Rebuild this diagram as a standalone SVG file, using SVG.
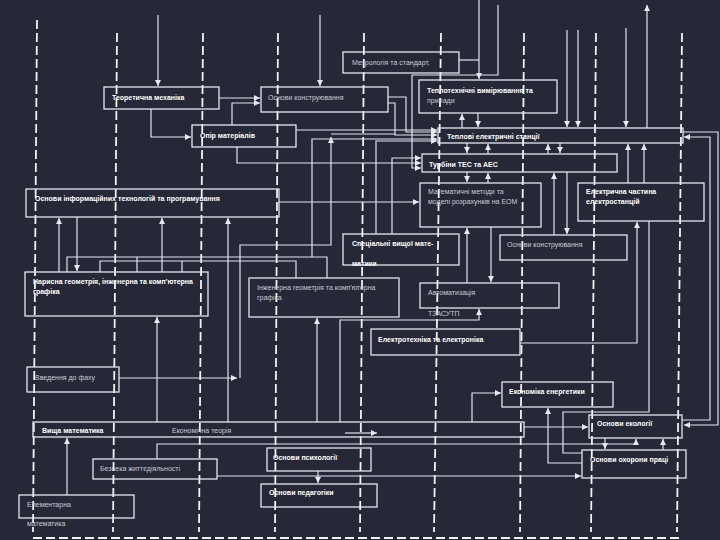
<svg xmlns="http://www.w3.org/2000/svg" width="720" height="540" viewBox="0 0 720 540">
<defs>
<marker id="ah" markerWidth="6" markerHeight="6" refX="6" refY="3" orient="auto" markerUnits="userSpaceOnUse">
<path d="M0,0 L6,3 L0,6 z" fill="#e4e9f2"/>
</marker>
<style>
.dash{stroke:#f2f2f2;stroke-width:1.8;stroke-dasharray:9 4;fill:none}
.box{fill:none;stroke:#e4e8f0;stroke-width:1.3}
.c{fill:none;stroke:#dfe5ef;stroke-width:1.2}
.a{fill:none;stroke:#dfe5ef;stroke-width:1.2;marker-end:url(#ah)}
.t{font-family:"Liberation Sans",Arial,sans-serif;font-size:7px;fill:#c9ccd6}
.b{font-family:"Liberation Sans",Arial,sans-serif;font-size:7px;fill:#ffffff;font-weight:bold}
</style>
</defs>
<rect x="0" y="0" width="720" height="540" fill="#262737"/>

<g id="grid">
<line class="dash" x1="37" y1="20" x2="33" y2="532"/>
<line class="dash" x1="117" y1="33" x2="113" y2="532"/>
<line class="dash" x1="203" y1="33" x2="199" y2="532"/>
<line class="dash" x1="278" y1="33" x2="275" y2="532"/>
<line class="dash" x1="364" y1="33" x2="360" y2="532"/>
<line class="dash" x1="441" y1="33" x2="434" y2="532"/>
<line class="dash" x1="524" y1="33" x2="520" y2="532"/>
<line class="dash" x1="596" y1="33" x2="591" y2="532"/>
<line class="dash" x1="682" y1="33" x2="677" y2="532"/>
<line class="dash" x1="33" y1="538" x2="682" y2="538"/>
</g>

<g id="connectors">
<path class="a" d="M158,15 V86"/>
<path class="a" d="M320,15 V86"/>
<path class="a" d="M479,0 V79"/>
<path class="c" d="M459,60 H479"/>
<path class="a" d="M498,5 V75 H412 V168 H421"/>
<path class="a" d="M567,30 V127"/>
<path class="a" d="M578,30 V127"/>
<path class="a" d="M626,28 V127"/>
<path class="a" d="M647,128 V5"/>
<path class="a" d="M219,98 H260"/>
<path class="a" d="M151,109 V137 H191"/>
<path class="a" d="M232,125 V103 H260"/>
<path class="a" d="M388,97 H406 V132 H437"/>
<path class="a" d="M388,103 H395 V135 H437"/>
<path class="a" d="M296,130 H437"/>
<path class="a" d="M240,378 V245 H331 V137"/>
<path class="c" d="M331,134 H395"/>
<path class="a" d="M312,257 V139 H437"/>
<path class="a" d="M376,234 V141 H437"/>
<path class="a" d="M392,234 V158 H421"/>
<path class="a" d="M237,147 V163 H421"/>
<path class="a" d="M279,202 H419"/>
<path class="a" d="M462,128 V114"/>
<path class="a" d="M478,113 V127"/>
<path class="a" d="M467,143 V153"/>
<path class="a" d="M488,154 V144"/>
<path class="a" d="M548,154 V144"/>
<path class="a" d="M560,143 V153"/>
<path class="a" d="M467,172 V182"/>
<path class="a" d="M488,183 V173"/>
<path class="a" d="M628,183 V144"/>
<path class="a" d="M644,183 V144"/>
<path class="a" d="M554,235 V173"/>
<path class="a" d="M567,172 V234"/>
<path class="a" d="M491,227 V282"/>
<path class="a" d="M467,283 V228"/>
<path class="a" d="M340,422 V320 H479 V309"/>
<path class="a" d="M520,343 H637 V222"/>
<path class="c" d="M649,221 V412 H563 V453 H582"/>
<path class="a" d="M582,463 H548 V408"/>
<path class="a" d="M472,422 V393 H501"/>
<path class="a" d="M524,427 H588"/>
<path class="a" d="M345,433 H377"/>
<path class="a" d="M157,459 V444 H636 V439"/>
<path class="a" d="M605,438 V449"/>
<path class="a" d="M663,450 V439"/>
<path class="a" d="M217,476 H581"/>
<path class="a" d="M318,471 V483"/>
<path class="a" d="M67,495 V438"/>
<path class="a" d="M119,378 H237"/>
<path class="a" d="M157,422 V317"/>
<path class="a" d="M228,422 V218"/>
<path class="a" d="M317,422 V318"/>
<path class="a" d="M59,272 V218"/>
<path class="a" d="M162,272 V218"/>
<path class="a" d="M77,217 V271"/>
<path class="c" d="M67,272 V257 H327 V278"/>
<path class="c" d="M100,272 V261 H296 V278"/>
<path class="c" d="M137,257 V272"/>
<path class="c" d="M182,261 V272"/>
<path class="a" d="M683,132 H718 V425 H684"/>
<path class="a" d="M682,420 H710 V137 H684"/>
</g>

<g id="n-metrology"><rect class="box" x="343" y="52" width="116" height="21"/><text class="t" x="352" y="65">Метрологія та стандарт.</text></g>
<g id="n-mechanics"><rect class="box" x="104" y="87" width="115" height="22"/><text class="b" x="112" y="100">Теоретична механіка</text></g>
<g id="n-design1"><rect class="box" x="261" y="87" width="127" height="25"/><text class="t" x="268" y="100">Основи конструювання</text></g>
<g id="n-strength"><rect class="box" x="192" y="125" width="104" height="22"/><text class="b" x="200" y="138">Опір матеріалів</text></g>
<g id="n-measure"><rect class="box" x="419" y="80" width="138" height="33"/><text class="b" x="427" y="93">Теплотехнічні вимірювання та</text><text class="t" x="427" y="103">прилади</text></g>
<g id="n-tes"><rect class="box" x="438" y="128" width="245" height="15"/><text class="b" x="447" y="139">Теплові електричні станції</text></g>
<g id="n-turbines"><rect class="box" x="422" y="154" width="195" height="18"/><text class="b" x="429" y="167">Турбіни ТЕС та АЕС</text></g>
<g id="n-it"><rect class="box" x="26" y="189" width="253" height="28"/><text class="b" x="35" y="201">Основи інформаційних технологій та програмування</text></g>
<g id="n-math-methods"><rect class="box" x="420" y="183" width="121" height="44"/><text class="t" x="428" y="194">Математичні методи та</text><text class="t" x="428" y="204">моделі розрахунків на ЕОМ</text></g>
<g id="n-electric"><rect class="box" x="578" y="183" width="126" height="38"/><text class="b" x="586" y="194">Електрична частина</text><text class="b" x="586" y="204">електростанцій</text></g>
<g id="n-special-math"><rect class="box" x="343" y="234" width="116" height="31"/><text class="b" x="352" y="246">Спеціальні вищої мате-</text><text class="b" x="352" y="266">матики</text></g>
<g id="n-design2"><rect class="box" x="500" y="235" width="127" height="25"/><text class="t" x="507" y="247">Основи конструювання</text></g>
<g id="n-descriptive"><rect class="box" x="25" y="272" width="183" height="44"/><text class="b" x="33" y="284">Нарисна геометрія, інженерна та комп'ютерна</text><text class="b" x="33" y="294">графіка</text></g>
<g id="n-eng-graphics"><rect class="box" x="249" y="278" width="150" height="39"/><text class="t" x="257" y="290">Інженерна геометрія та комп'ютерна</text><text class="t" x="257" y="300">графіка</text></g>
<g id="n-automation"><rect class="box" x="420" y="283" width="139" height="25"/><text class="t" x="428" y="295">Автоматизація</text><text class="t" x="428" y="316">ТЗАСУТП</text></g>
<g id="n-electrotech"><rect class="box" x="371" y="329" width="149" height="26"/><text class="b" x="378" y="342">Електротехніка та електроніка</text></g>
<g id="n-intro"><rect class="box" x="27" y="367" width="92" height="25"/><text class="t" x="35" y="380">Введення до фаху</text></g>
<g id="n-economics-energy"><rect class="box" x="502" y="382" width="111" height="25"/><text class="b" x="509" y="394">Економіка енергетики</text></g>
<g id="n-higher-math"><rect class="box" x="33" y="422" width="491" height="15"/><text class="b" x="42" y="433">Вища математика</text><text class="t" x="172" y="433">Економічна теорія</text></g>
<g id="n-ecology"><rect class="box" x="589" y="415" width="93" height="23"/><text class="b" x="597" y="426">Основи екології</text></g>
<g id="n-labor"><rect class="box" x="582" y="450" width="104" height="28"/><text class="b" x="590" y="462">Основи охорони праці</text></g>
<g id="n-safety"><rect class="box" x="93" y="459" width="124" height="20"/><text class="t" x="100" y="471">Безпека життєдіяльності</text></g>
<g id="n-psychology"><rect class="box" x="267" y="448" width="104" height="23"/><text class="b" x="273" y="460">Основи психології</text></g>
<g id="n-pedagogy"><rect class="box" x="261" y="484" width="116" height="23"/><text class="b" x="269" y="495">Основи педагогіки</text></g>
<g id="n-elementary"><rect class="box" x="19" y="495" width="115" height="23"/><text class="t" x="27" y="507">Елементарна</text><text class="t" x="27" y="526">математика</text></g>
</svg>
